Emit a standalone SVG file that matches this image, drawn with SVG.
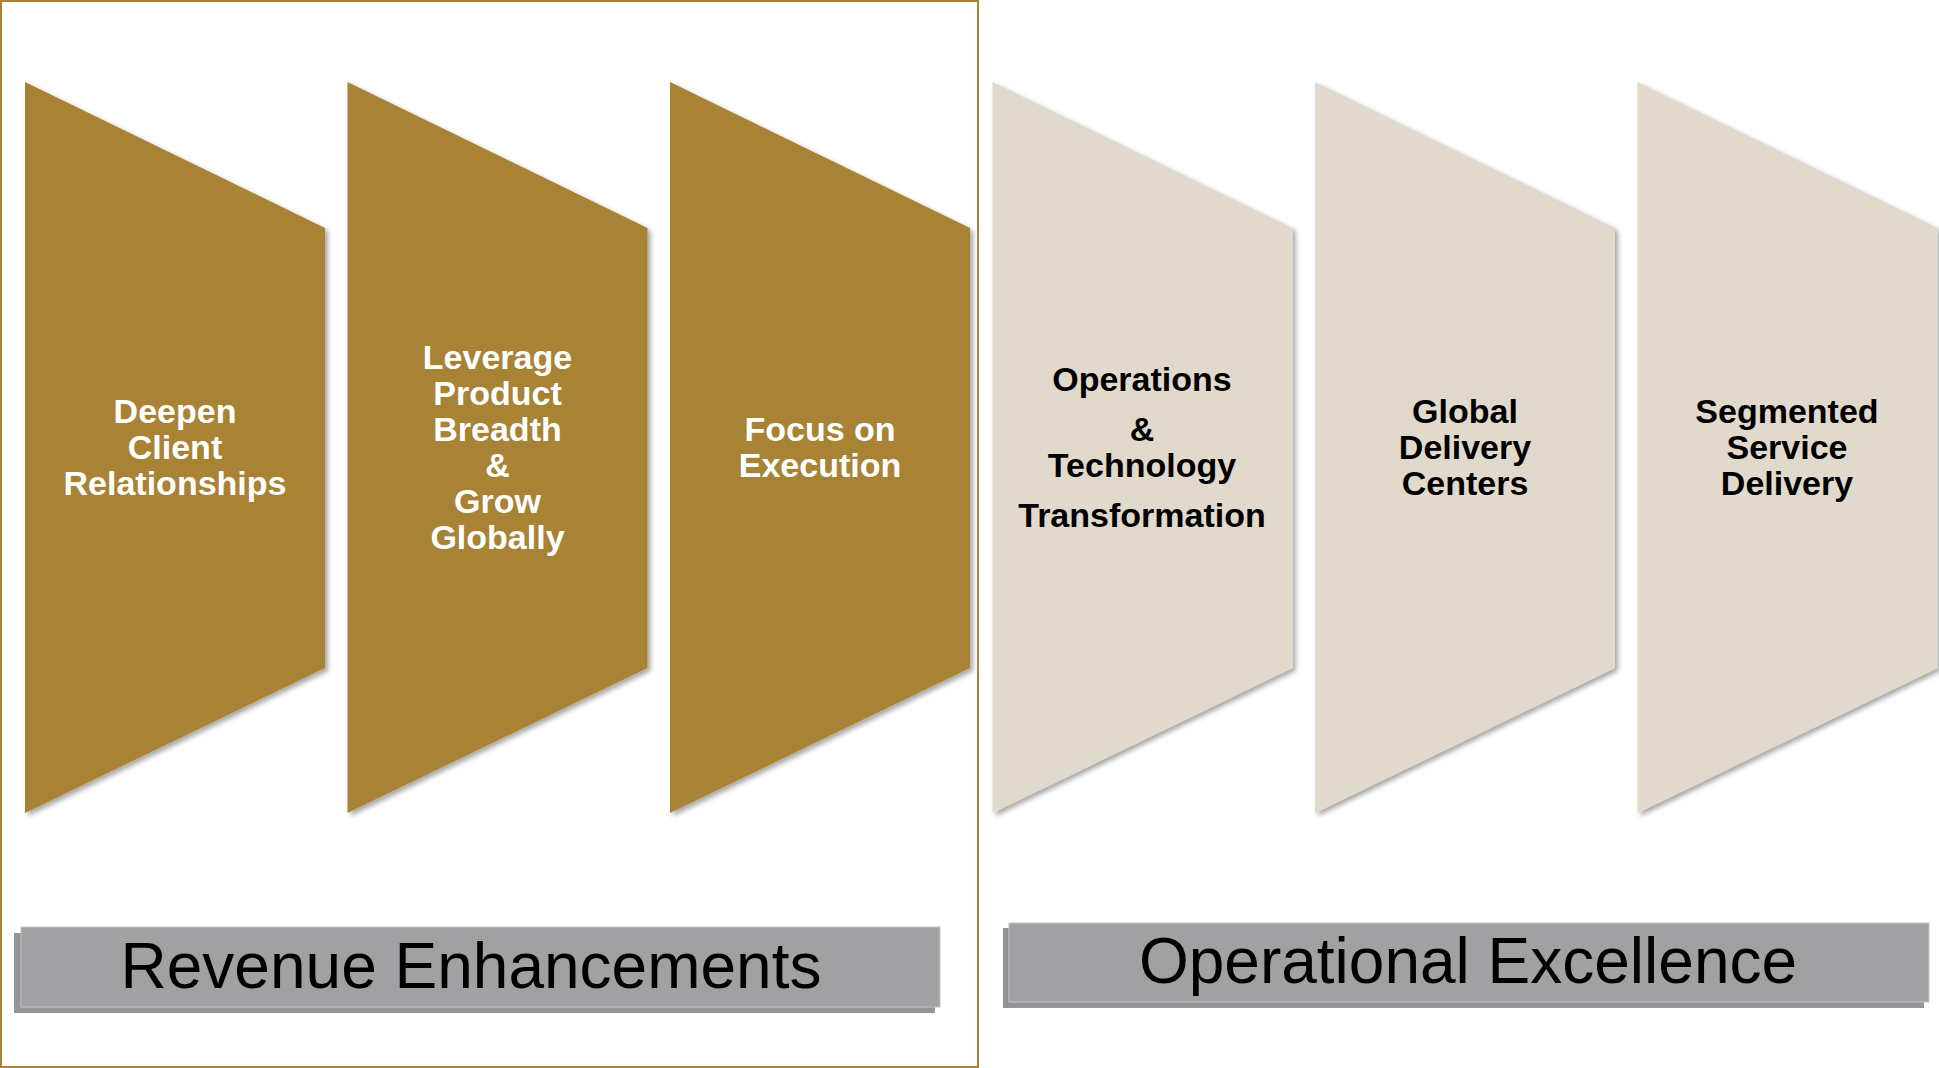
<svg xmlns="http://www.w3.org/2000/svg" width="1939" height="1068" viewBox="0 0 1939 1068">
  <style>
    .gold { fill: #a98335; filter: url(#sh); }
    .beige { fill: #e0d9cc; filter: url(#sh); }
    .lblw { font-family: "Liberation Sans", Arial, sans-serif; font-weight: bold; font-size: 34px; fill: #ffffff; text-anchor: middle; }
    .lblb { font-family: "Liberation Sans", Arial, sans-serif; font-weight: bold; font-size: 34px; fill: #000000; text-anchor: middle; }
    .ban { fill: #a1a1a3; }
    .banSh { fill: #959597; }
    .banTxt { font-family: "Liberation Sans", Arial, sans-serif; font-size: 64px; fill: #000000; text-anchor: middle; }
  </style>
  <defs>
    <filter id="sh" x="-10%" y="-10%" width="130%" height="130%">
      <feDropShadow dx="3" dy="3" stdDeviation="2.5" flood-color="#000000" flood-opacity="0.35"/>
    </filter>
    <polygon id="chev" points="0,82 300,228 300,668 0,813"/>
  </defs>
  <rect width="1939" height="1068" fill="#ffffff"/>

  <g id="frame">
    <rect x="1" y="1" width="977" height="1066" fill="none" stroke="#a98335" stroke-width="2"/>
  </g>

  <g id="node-deepen">
    <use href="#chev" x="25" class="gold"/>
    <text class="lblw"><tspan x="175" y="423">Deepen</tspan><tspan x="175" y="459">Client</tspan><tspan x="175" y="495">Relationships</tspan></text>
  </g>
  <g id="node-leverage">
    <use href="#chev" x="347.5" class="gold"/>
    <text class="lblw"><tspan x="497.5" y="369">Leverage</tspan><tspan x="497.5" y="405">Product</tspan><tspan x="497.5" y="441">Breadth</tspan><tspan x="497.5" y="477">&amp;</tspan><tspan x="497.5" y="513">Grow</tspan><tspan x="497.5" y="549">Globally</tspan></text>
  </g>
  <g id="node-focus">
    <use href="#chev" x="670" class="gold"/>
    <text class="lblw"><tspan x="820" y="441">Focus on</tspan><tspan x="820" y="477">Execution</tspan></text>
  </g>
  <g id="node-operations">
    <use href="#chev" x="992.5" class="beige"/>
    <text class="lblb"><tspan x="1142" y="391">Operations</tspan><tspan x="1142" y="441">&amp;</tspan><tspan x="1142" y="477">Technology</tspan><tspan x="1142" y="527">Transformation</tspan></text>
  </g>
  <g id="node-global">
    <use href="#chev" x="1315" class="beige"/>
    <text class="lblb"><tspan x="1465" y="423">Global</tspan><tspan x="1465" y="459">Delivery</tspan><tspan x="1465" y="495">Centers</tspan></text>
  </g>
  <g id="node-segmented">
    <use href="#chev" x="1637.5" class="beige"/>
    <text class="lblb"><tspan x="1787" y="423">Segmented</tspan><tspan x="1787" y="459">Service</tspan><tspan x="1787" y="495">Delivery</tspan></text>
  </g>

  <g id="banner-revenue">
    <rect class="banSh" x="14" y="933" width="921" height="80"/>
    <rect class="ban" x="21" y="927" width="919" height="80" stroke="#c4c4c6" stroke-width="1"/>
    <text class="banTxt" x="471" y="988">Revenue Enhancements</text>
  </g>
  <g id="banner-operational">
    <rect class="banSh" x="1003" y="928" width="921" height="80"/>
    <rect class="ban" x="1009" y="923" width="920" height="79" stroke="#c4c4c6" stroke-width="1"/>
    <text class="banTxt" x="1468" y="983">Operational Excellence</text>
  </g>

  <g id="connectors"></g>
</svg>
